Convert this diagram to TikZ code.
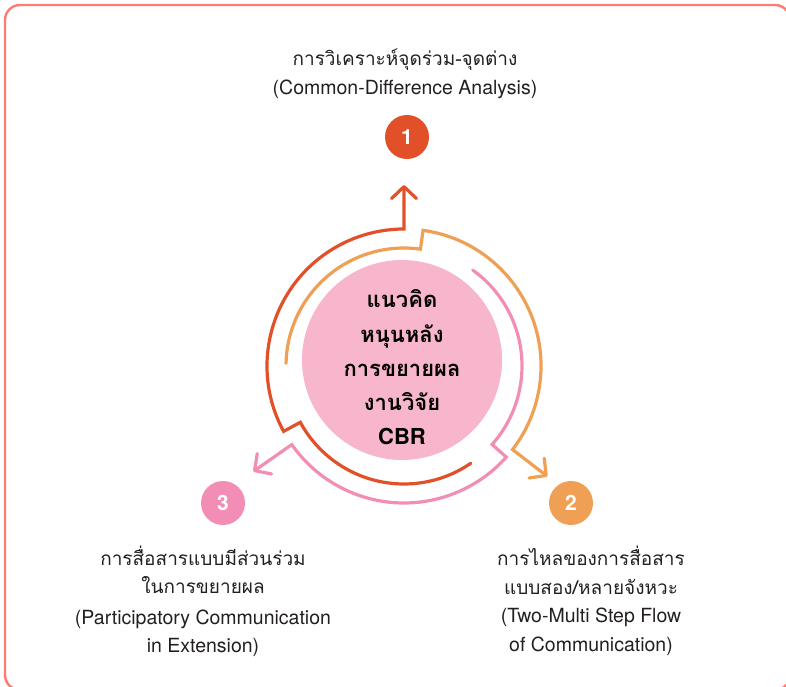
\documentclass[tikz,border=0pt]{standalone}
\usepackage{fontspec}
\setmainfont{TeX Gyre Heros}
\newfontfamily\thaifont[Script=Thai]{Loma}
\usetikzlibrary{arrows.meta,calc}
\definecolor{cred}{HTML}{E2502A}
\definecolor{corange}{HTML}{EFA055}
\definecolor{cpink}{HTML}{F28DB5}
\definecolor{cfill}{HTML}{F7B6CB}
\definecolor{cborder}{HTML}{FF7A70}
\definecolor{ctext}{HTML}{231F20}
\begin{document}
\begin{tikzpicture}[x=1pt,y=1pt,
  ring/.style={line width=3.2pt, line cap=round},
  tipped/.style={-{Straight Barb[length=12pt,width=25pt,round]}},
  badge/.style={circle, minimum size=44pt, inner sep=0pt, text=white, font=\fontsize{21}{21}\selectfont\bfseries},
  thlbl/.style={anchor=base, inner sep=0pt, text=ctext, font=\thaifont\fontsize{19}{19}\selectfont},
  enlbl/.style={anchor=base, inner sep=0pt, text=ctext, font=\fontsize{19.5}{19.5}\selectfont},
  coretxt/.style={anchor=base, inner sep=0pt, text=black, font=\thaifont\bfseries\fontsize{22}{22}\selectfont},
  coreen/.style={anchor=base, inner sep=0pt, text=black, font=\bfseries\fontsize{22}{22}\selectfont}
]
\useasboundingbox (0,0) rectangle (786,686);
\draw[cborder, line width=2.4pt, rounded corners=15pt] (5,681) rectangle (790,-4);

% central disc
\node[circle, fill=cfill, minimum size=200pt, inner sep=0pt] (core) at (402,326) {};
\node[coretxt] (c1) at (402,378) {แนวคิด};
\node[coretxt] (c2) at (402,344) {หนุนหลัง};
\node[coretxt] (c3) at (402,310) {การขยายผล};
\node[coretxt] (c4) at (402,276) {งานวิจัย};
\node[coreen]  (c5) at (402,242) {CBR};

% rings
\coordinate (C) at (404,320);
\coordinate (tip1) at ($(C)+(90:181)$);
\coordinate (tip2) at ($(C)+(-37.6:181)$);
\coordinate (tip3) at ($(C)+(-145:184)$);
\draw[ring, cred, tipped] ($(C)+(304.5:118)$) arc[start angle=304.5, end angle=208.5, radius=118]
  -- ($(C)+(208.5:137)$) arc[start angle=208.5, end angle=90, radius=137] -- (tip1);
\draw[ring, corange, tipped] ($(C)+(178.7:118)$) arc[start angle=178.7, end angle=82, radius=118]
  -- ($(C)+(82:137)$) arc[start angle=82, end angle=-37.6, radius=137] -- (tip2);
\draw[ring, cpink, tipped] ($(C)+(54.4:118)$) arc[start angle=54.4, end angle=-41.7, radius=118]
  -- ($(C)+(-41.7:137)$) arc[start angle=-41.7, end angle=-145, radius=137] -- (tip3);

% badges
\node[badge, fill=cred] (b1) at (407,549) {1};
\node[badge, fill=corange] (b2) at (571,183) {2};
\node[badge, fill=cpink] (b3) at (223,183) {3};

% labels
\node[thlbl] (l1a) at (405,620) {การวิเคราะห์จุดร่วม-จุดต่าง};
\node[enlbl] (l1b) at (405,591) {(Common-Difference Analysis)};

\node[thlbl] (l3a) at (203,121) {การสื่อสารแบบมีส่วนร่วม};
\node[thlbl] (l3b) at (203,92.7) {ในการขยายผล};
\node[enlbl] (l3c) at (203,62) {(Participatory Communication};
\node[enlbl] (l3d) at (203,33.3) {in Extension)};

\node[thlbl] (l2a) at (591,121) {การไหลของการสื่อสาร};
\node[thlbl] (l2b) at (591,92) {แบบสอง/หลายจังหวะ};
\node[enlbl] (l2c) at (591,63.3) {(Two-Multi Step Flow};
\node[enlbl] (l2d) at (591,34.3) {of Communication)};
\end{tikzpicture}
\end{document}
